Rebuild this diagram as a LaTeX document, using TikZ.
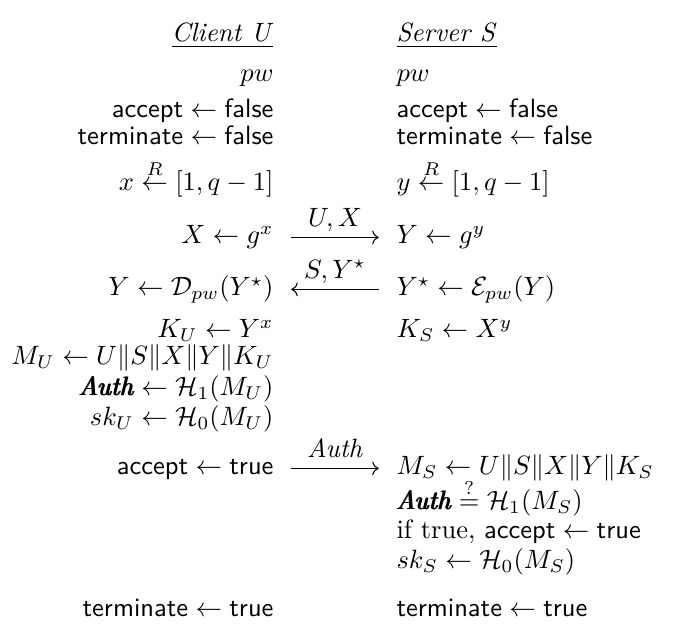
\documentclass[tikz,border=0pt]{standalone}
\usepackage{amsmath,amssymb}
\usepackage{tikz}
\usetikzlibrary{arrows.meta}
\tikzset{
  client/.style={anchor=base east, inner sep=0pt},
  server/.style={anchor=base west, inner sep=0pt},
  msg/.style={-{Computer Modern Rightarrow}, line width=0.4pt, shorten <=6.5pt, shorten >=6.5pt},
  msglbl/.style={anchor=base, inner sep=0pt, yshift=4.2pt}
}
\newcommand{\authtag}{\pmb{\textit{Auth}}}

\begin{document}
\begin{tikzpicture}[x=0.3774pt, y=-0.3774pt]
  \useasboundingbox (0,0) rectangle (673,642);
  % client U
  \node[client] (cu)    at (274,42)  {\underline{\textit{Client U}}};
  \node[client] (pwu)   at (274,82)  {$pw$};
  \node[client] (accu)  at (274,118) {$\textsf{accept} \leftarrow \textsf{false}$};
  \node[client] (termu) at (274,145) {$\textsf{terminate} \leftarrow \textsf{false}$};
  \node[client] (xu)    at (274,191) {$x \stackrel{R}{\leftarrow} [1,q-1]$};
  \node[client] (gx)    at (274,244) {$X \leftarrow g^x$};
  \node[client] (dy)    at (274,296) {$Y \leftarrow \mathcal{D}_{pw}(Y^\star)$};
  \node[client] (ku)    at (274,338) {$K_U \leftarrow Y^x$};
  \node[client] (mu)    at (274,365) {$M_U \leftarrow U\|S\|X\|Y\|K_U$};
  \node[client] (authu) at (274,396) {$\authtag \leftarrow \mathcal{H}_1(M_U)$};
  \node[client] (sku)   at (274,426) {$sk_U \leftarrow \mathcal{H}_0(M_U)$};
  \node[client] (oku)   at (274,475) {$\textsf{accept} \leftarrow \textsf{true}$};
  \node[client] (endu)  at (274,617) {$\textsf{terminate} \leftarrow \textsf{true}$};
  % server S
  \node[server] (ss)    at (396,42)  {\underline{\textit{Server S}}};
  \node[server] (pws)   at (396,82)  {$pw$};
  \node[server] (accs)  at (396,118) {$\textsf{accept} \leftarrow \textsf{false}$};
  \node[server] (terms) at (396,145) {$\textsf{terminate} \leftarrow \textsf{false}$};
  \node[server] (ys)    at (396,191) {$y \stackrel{R}{\leftarrow} [1,q-1]$};
  \node[server] (gy)    at (396,244) {$Y \leftarrow g^y$};
  \node[server] (ey)    at (396,296) {$Y^\star \leftarrow \mathcal{E}_{pw}(Y)$};
  \node[server] (ks)    at (396,338) {$K_S \leftarrow X^y$};
  \node[server] (ms)    at (396,475) {$M_S \leftarrow U\|S\|X\|Y\|K_S$};
  \node[server] (auths) at (396,510) {$\authtag \stackrel{?}{=} \mathcal{H}_1(M_S)$};
  \node[server] (oks)   at (396,539) {if true, $\textsf{accept} \leftarrow \textsf{true}$};
  \node[server] (sks)   at (396,569) {$sk_S \leftarrow \mathcal{H}_0(M_S)$};
  \node[server] (ends)  at (396,617) {$\textsf{terminate} \leftarrow \textsf{true}$};
  % messages
  \draw[msg] ([yshift=2.5pt]gx.base east) -- ([yshift=2.5pt]gy.base west)
    node[msglbl, midway] {$U,X$};
  \draw[msg] ([yshift=2.5pt]ey.base west) -- ([yshift=2.5pt]dy.base east)
    node[msglbl, midway] {$S,Y^\star$};
  \draw[msg] ([yshift=2.5pt]oku.base east) -- ([yshift=2.5pt]ms.base west)
    node[msglbl, midway] {\textit{Auth}};
\end{tikzpicture}
\end{document}
